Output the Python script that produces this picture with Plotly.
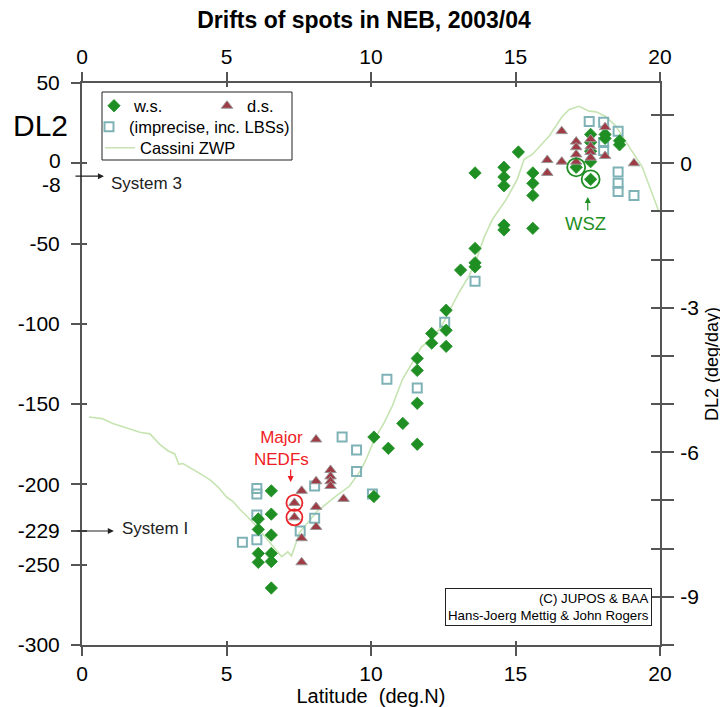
import plotly.graph_objects as go

# ---------------- data ----------------
ws_lat = [13.6, 14.6, 14.6, 14.6, 15.1, 15.6, 15.6, 15.6, 14.6, 14.6, 15.6, 13.6,
          17.1, 17.6, 17.6, 17.6, 17.6, 17.6, 18.1, 18.1, 18.6, 18.6,
          13.6, 13.6, 13.1, 12.6, 12.6, 12.6, 12.1, 12.1, 11.6, 11.6, 11.6, 11.6,
          11.1, 10.1, 10.1, 10.6,
          6.55, 6.55, 6.55, 6.55, 6.55, 6.55, 6.1, 6.1, 6.1, 6.1]
ws_dl2 = [-6, -2.5, -8.5, -14, 7, -6, -12.5, -20, -38.5, -41.5, -40.5, -53,
          -2.5, -10, 18, 13, 7.5, 1, 15.5, 18, 11.5, 14,
          -62, -64.5, -66.5, -91.5, -104, -114, -106, -112, -121.5, -129, -149.5, -175,
          -162, -170.5, -207.5, -177.5,
          -204, -218.5, -231.5, -243, -248, -264.5, -221.5, -228, -243, -248.5]

ds_lat = [16.6, 16.6, 16.1, 16.1, 17.1, 17.1, 17.1, 17.1, 17.6, 17.6, 17.6, 17.6,
          18.1, 18.1, 19.1,
          8.1, 8.1, 8.1, 8.1, 8.6, 8.6, 8.6, 8.6, 7.6, 7.6, 7.6, 7.35, 7.35, 9.05]
ds_dl2 = [20, 1, 2, -6, 13.5, 10, 5.5, 1, 15, 10.5, 7, 3.5,
          22.5, 4.5, 0,
          -172, -198, -214, -226.5, -191, -195, -198, -201, -204, -233.5, -248.5,
          -211.5, -220.5, -209]

imp_lat = [17.55, 18.05, 18.05, 18.05, 18.55, 18.55, 18.55, 18.55, 19.1,
           13.6, 12.55, 10.55, 11.6, 9.0, 9.5, 9.5, 10.05,
           6.05, 6.05, 6.05, 6.05, 5.55, 8.05, 8.05, 7.55]
imp_dl2 = [26, 25.5, 13, 8, 20, -5.5, -12.5, -17.5, -20,
           -73.5, -99, -134.5, -140, -170.5, -178.5, -192, -206,
           -202.5, -206, -219, -234.5, -236, -201, -221, -229]

cassini_lat = [0.24, 0.69, 1.07, 1.66, 2.0, 2.35, 2.69, 2.97, 3.21, 3.35, 3.49, 3.97,
               4.42, 4.7, 5.01, 5.22, 5.46, 5.8, 6.04, 6.49, 6.91, 7.12, 7.25, 7.53,
               8.12, 8.81, 9.26, 9.67, 9.84, 10.12, 10.47, 10.74, 11.09, 11.5, 11.74,
               12.09, 12.44, 12.71, 13.06, 13.4, 13.64, 13.92, 14.2, 14.68, 15.06,
               15.3, 15.58, 16.17, 16.61, 16.86, 17.2, 17.55, 17.79, 18.13, 18.48,
               18.83, 19.38, 19.97]
cassini_dl2 = [-158, -159, -162, -165.5, -167.5, -168.5, -175, -179, -181, -187.5, -187, -192,
               -197, -201.5, -208, -210.5, -215.5, -221.5, -226, -236, -245, -242, -244.5, -230,
               -217, -207, -201, -190.5, -184, -172, -161, -151, -134.5, -122, -114.5,
               -109.5, -101.5, -92, -80, -70, -60, -46, -35, -22.5, -10,
               2.5, 5.5, 17, 29, 33.5, 35.5, 32.5, 32, 29, 23,
               13, -2, -30.5]

wsz_lat = [17.1, 17.6]
wsz_dl2 = [-2.5, -10]
nedf_lat = [7.35, 7.35]
nedf_dl2 = [-211.5, -220.5]

x_ticks = [0, 5, 10, 15, 20]
y_ticks = [50, 0, -50, -100, -150, -200, -229, -250, -300]
y_ticktext = ["50", "", "-50", "-100", "-150", "-200", "-229", "-250", "-300"]
r_ticks = [1, 0, -1, -2, -3, -4, -5, -6, -7, -8, -9, -10]
r_ticktext = ["", "0", "", "", "-3", "", "", "-6", "", "", "-9", ""]

FONT = "Arial, Liberation Sans, sans-serif"
GREEN = "#1f8f24"
RED = "#9e3b45"
TEAL = "#7fb2b6"
LINE_GREEN = "#c6e4b2"
AX = "#555555"

fig = go.Figure()

fig.add_trace(go.Scatter(x=cassini_lat, y=cassini_dl2, mode="lines", name="Cassini ZWP",
                         line=dict(color=LINE_GREEN, width=1.6), legend="legend3"))
fig.add_trace(go.Scatter(x=imp_lat, y=imp_dl2, mode="markers", name="(imprecise, inc. LBSs)",
                         marker=dict(symbol="square-open", size=9, color=TEAL,
                                     line=dict(width=2, color=TEAL)), legend="legend2"))
fig.add_trace(go.Scatter(x=ws_lat, y=ws_dl2, mode="markers", name="w.s.",
                         marker=dict(symbol="diamond", size=9.5, color=GREEN,
                                     line=dict(width=0.8, color=GREEN)), legend="legend"))
fig.add_trace(go.Scatter(x=ds_lat, y=ds_dl2, mode="markers", name="d.s.",
                         marker=dict(symbol="triangle-up", size=10, color=RED,
                                     line=dict(width=1, color="#999999")), legend="legend"))
fig.add_trace(go.Scatter(x=wsz_lat, y=wsz_dl2, mode="markers", showlegend=False,
                         marker=dict(symbol="circle-open", size=18, color=GREEN,
                                     line=dict(width=1.8, color=GREEN))))
fig.add_trace(go.Scatter(x=nedf_lat, y=nedf_dl2, mode="markers", showlegend=False,
                         marker=dict(symbol="circle-open", size=16, color="#e8262b",
                                     line=dict(width=1.8, color="#e8262b"))))
# empty carriers so that the extra axes are drawn
for xa, ya in [("x2", "y2"), ("x3", "y3"), ("x4", "y4")]:
    fig.add_trace(go.Scatter(x=[None], y=[None], xaxis=xa, yaxis=ya, showlegend=False,
                             hoverinfo="skip"))

# page has an 8px body margin: figure is drawn at (8, 8)
OFF = 8
W, H = 728 - OFF, 707 - OFF
L, R, T, B = 82 - OFF, 68, 83 - OFF, 62
pw, ph = W - L - R, H - T - B

def px_x(p):
    return (p - OFF - L) / pw

def px_y(p):
    return (H - B - (p - OFF)) / ph

annotations = [
    dict(text="DL2", xref="paper", yref="paper", x=px_x(40), y=px_y(125), xanchor="center",
         yanchor="middle", showarrow=False, font=dict(size=30, color="black", family=FONT)),
    dict(text="0", xref="paper", yref="y", x=0, y=0, xanchor="right", xshift=-19, yshift=3,
         showarrow=False, font=dict(size=21, color="black", family=FONT)),
    dict(text="-8", xref="paper", yref="y", x=0, y=-8, xanchor="right", xshift=-19, yshift=-8,
         showarrow=False, font=dict(size=21, color="black", family=FONT)),
    dict(text="", x=0.76, y=-8, ax=-30, ay=0, showarrow=True, arrowhead=2, arrowsize=1,
         arrowwidth=1.2, arrowcolor="#222222"),
    dict(text="System 3", x=0.95, y=-8, xanchor="left", yshift=-7, showarrow=False,
         font=dict(size=17, color="#222222", family=FONT)),
    dict(text="", x=1.1, y=-229, ax=-38, ay=0, showarrow=True, arrowhead=2, arrowsize=1,
         arrowwidth=1.2, arrowcolor="#222222"),
    dict(text="System I", x=1.33, y=-229, xanchor="left", yshift=2, showarrow=False,
         font=dict(size=17, color="#222222", family=FONT)),
    dict(text="Major<br>NEDFs", x=6.9, y=-177.5, showarrow=False,
         font=dict(size=17, color="#ee1c24", family=FONT)),
    dict(text="", x=7.22, y=-198.5, ax=0, ay=-14, showarrow=True, arrowhead=2, arrowsize=1,
         arrowwidth=1.2, arrowcolor="#ee1c24"),
    dict(text="WSZ", x=17.42, y=-37.5, showarrow=False,
         font=dict(size=18.5, color=GREEN, family=FONT)),
    dict(text="", x=17.5, y=-21, ax=0, ay=15, showarrow=True, arrowhead=2, arrowsize=1,
         arrowwidth=1.2, arrowcolor=GREEN),
    dict(text="(C) JUPOS &amp; BAA<br>Hans-Joerg Mettig &amp; John Rogers", xref="paper",
         yref="paper", x=px_x(652), y=px_y(626), xanchor="right", yanchor="bottom",
         align="right", showarrow=False, bordercolor="#222222", borderwidth=1, borderpad=2,
         bgcolor="white", font=dict(size=13.3, color="black", family=FONT)),
]

shapes = [
    dict(type="rect", xref="paper", yref="paper", x0=px_x(102), x1=px_x(292),
         y0=px_y(160), y1=px_y(92), line=dict(color="#222222", width=1)),
]

axis_common = dict(showline=True, linecolor=AX, linewidth=2, ticks="outside",
                   tickcolor=AX, tickwidth=1.5, showgrid=False, zeroline=False,
                   automargin=False,
                   tickfont=dict(size=21, color="black", family=FONT))
inner_common = dict(showline=False, ticks="inside", tickcolor=AX, tickwidth=1.5,
                    showgrid=False, zeroline=False, automargin=False, showticklabels=False)

legend_common = dict(xanchor="left", yanchor="middle", bgcolor="rgba(0,0,0,0)",
                     borderwidth=0, itemwidth=30,
                     font=dict(size=16.5, color="black", family=FONT))

fig.update_layout(
    width=W, height=H,
    margin=dict(l=L, r=R, t=T, b=B, autoexpand=False),
    paper_bgcolor="white", plot_bgcolor="white",
    font=dict(family=FONT, color="black"),
    title=dict(text="<b>Drifts of spots in NEB, 2003/04</b>", xref="paper", x=px_x(364),
               xanchor="center", yref="container", y=1 - (20 - OFF) / H, yanchor="middle",
               automargin=False,
               font=dict(size=23, color="black", family=FONT)),
    xaxis=dict(range=[0, 20], tickvals=x_ticks, ticklen=9,
               title=dict(text="Latitude  (deg.N)", font=dict(size=20, family=FONT), standoff=4),
               **axis_common),
    xaxis2=dict(range=[0, 20], tickvals=x_ticks, ticklen=9, overlaying="x", side="top",
                **axis_common),
    xaxis3=dict(range=[0, 20], tickvals=x_ticks, ticklen=4, overlaying="x", side="bottom",
                **inner_common),
    xaxis4=dict(range=[0, 20], tickvals=x_ticks, ticklen=4, overlaying="x", side="top",
                **inner_common),
    yaxis=dict(range=[-300, 50], tickvals=y_ticks, ticktext=y_ticktext, ticklen=9,
               ticklabelstandoff=7, **axis_common),
    yaxis2=dict(range=[-10, 50 / 30], tickvals=r_ticks, ticktext=r_ticktext, ticklen=12,
                overlaying="y", side="right", ticklabelstandoff=2,
                title=dict(text="DL2 (deg/day)", font=dict(size=18, family=FONT), standoff=8),
                **axis_common),
    yaxis3=dict(range=[-300, 50], tickvals=y_ticks, ticklen=5, overlaying="y", side="left",
                **inner_common),
    yaxis4=dict(range=[-10, 50 / 30], tickvals=r_ticks, ticklen=9, overlaying="y",
                side="right", **inner_common),
    legend=dict(x=px_x(94), y=px_y(106), orientation="h", entrywidth=68,
                entrywidthmode="pixels", **legend_common),
    legend2=dict(x=px_x(89), y=px_y(127), orientation="v", **legend_common),
    legend3=dict(x=px_x(100), y=px_y(148), orientation="v", **legend_common),
    annotations=annotations,
    shapes=shapes,
)

fig.write_html("out.html")
